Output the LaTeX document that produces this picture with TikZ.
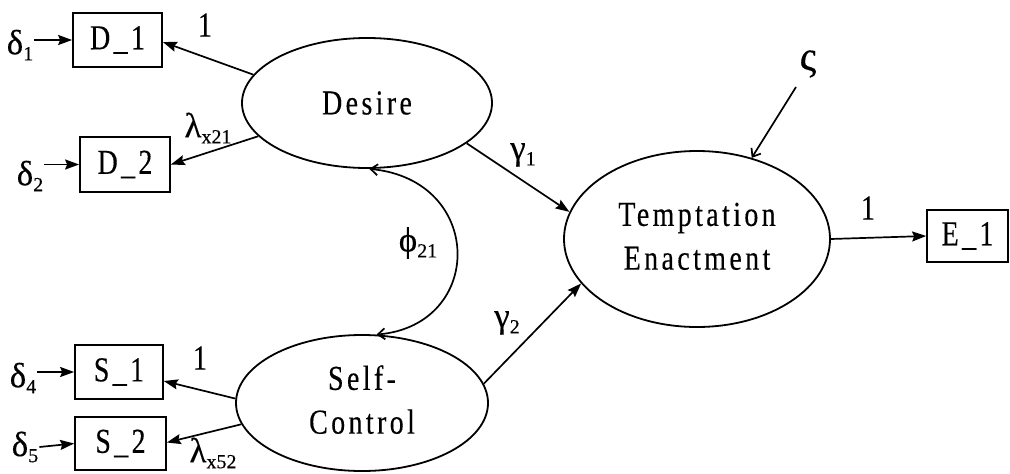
\documentclass[tikz,border=0pt]{standalone}
\usepackage{fontspec}
\setmainfont[FakeBold=0.3]{Liberation Serif}
\newfontfamily\spaced[LetterSpace=12,FakeBold=0.3]{Liberation Serif}
\usetikzlibrary{shapes.geometric,arrows.meta}
\newcommand\tallt[1]{\scalebox{1}[1.25]{#1}}
\newcommand\lowsub[1]{\raisebox{-6pt}{\fontsize{20}{20}\selectfont #1}}
\begin{document}
\begin{tikzpicture}[x=1pt,y=-1pt,
  every node/.style={font=\fontsize{28}{35}\selectfont},
  latent/.style={draw, ellipse, line width=1.8pt, inner sep=0pt},
  manifest/.style={draw, rectangle, line width=1.7pt, inner sep=0pt},
  lbl/.style={inner sep=1pt},
  greek/.style={inner sep=1pt, font=\fontsize{35}{35}\selectfont},
  causal/.style={-{Stealth[length=14pt,width=10pt,inset=2pt]}, line width=1.7pt},
  barb/.style={-{Straight Barb[length=7pt,width=11pt]}, line width=1.7pt},
  cov/.style={{Straight Barb[length=7pt,width=11pt]}-{Straight Barb[length=7pt,width=11pt]}, line width=1.7pt}]
\useasboundingbox (0,0) rectangle (1010,474);

% latent variables
\node[latent, minimum width=250pt, minimum height=130pt] (des) at (367,103) {\tallt{\spaced Desire}};
\node[latent, minimum width=252pt, minimum height=136pt] (sc) at (362,403)
  {\tallt{\begin{tabular}{@{}c@{}}\spaced Self-\\\spaced Control\end{tabular}}};
\node[latent, minimum width=266pt, minimum height=176pt] (te) at (697,239)
  {\tallt{\begin{tabular}{@{}c@{}}\spaced Temptation\\\spaced Enactment\end{tabular}}};

% manifest variables
\node[manifest, minimum width=89pt, minimum height=54pt] (d1) at (117.5,40) {\tallt{\spaced D\_1}};
\node[manifest, minimum width=90pt, minimum height=55pt] (d2) at (125,164.5) {\tallt{\spaced D\_2}};
\node[manifest, minimum width=88pt, minimum height=54pt] (s1) at (119,372) {\tallt{\spaced S\_1}};
\node[manifest, minimum width=91pt, minimum height=53pt] (s2) at (120.5,443.5) {\tallt{\spaced S\_2}};
\node[manifest, minimum width=81pt, minimum height=52pt] (e1) at (967.5,236) {\tallt{\spaced E\_1}};

% error labels
\node[greek] (dl1) at (20,45) {δ\lowsub{1}};
\node[greek] (dl2) at (30,176) {δ\lowsub{2}};
\node[greek] (dl4) at (23,378) {δ\lowsub{4}};
\node[greek] (dl5) at (25,447) {δ\lowsub{5}};
\node[greek, font=\fontsize{42}{42}\selectfont] (zeta) at (808,64) {ς};
\coordinate (zs) at (796,87);

% path labels
\node[lbl] (l1) at (205,25) {\tallt{1}};
\node[greek] (l21) at (208,128) {λ\lowsub{x21}};
\node[lbl] (l4) at (200,358) {\tallt{1}};
\node[greek] (l52) at (213,453) {λ\lowsub{x52}};
\node[greek] (g1) at (523,155) {γ\lowsub{1}};
\node[greek] (g2) at (507,323) {γ\lowsub{2}};
\node[greek] (phi) at (418,243) {ϕ\lowsub{21}};
\node[lbl] (le) at (868,208) {\tallt{1}};

% connectors
\draw[causal] (dl1.east |- d1.west) -- (d1.west);
\draw[causal] (dl2.east |- d2.west) -- (d2.west);
\draw[causal] (dl4.east |- s1.west) -- (s1.west);
\draw[causal] (dl5.east) -- (s2.west);
\draw[causal] (des.166) -- ([yshift=-2pt]d1.east);
\draw[causal] (des.197) -- (d2.east);
\draw[causal] (sc.178) -- ([yshift=-9pt]s1.east);
\draw[causal] (sc.190) -- ([yshift=1pt]s2.east);
\draw[causal] (des.338) -- (te.168);
\draw[causal] (sc.9.5) -- (te.201);
\draw[causal] (te.east) -- (e1.west);
\draw[barb] (zs) -- (te.56);
\draw[cov] (des.272) .. controls (485,180) and (485,325) .. (sc.78);
\end{tikzpicture}
\end{document}
